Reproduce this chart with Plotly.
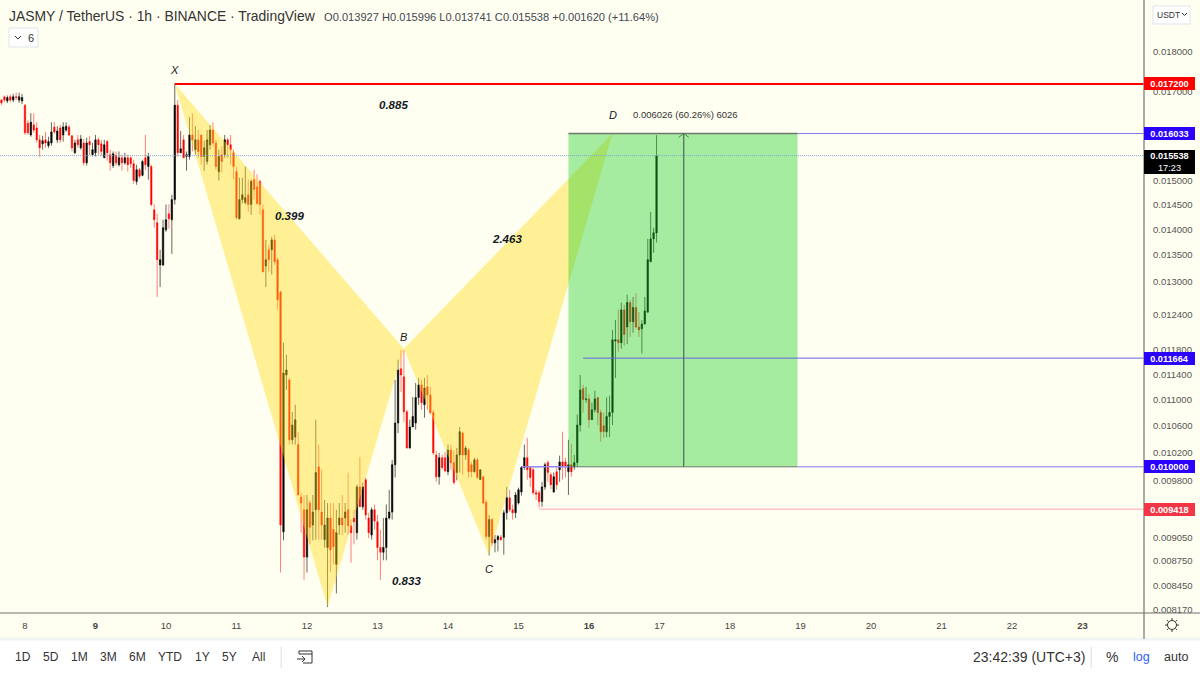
import math

import pandas as pd
import plotly.graph_objects as go

# prices are in units of 0.00001 USDT, hourly candles
open_e5 = [
    1681, 1689, 1679, 1689, 1681, 1689, 1681, 1679, 1669, 1627,
    1600, 1623, 1616, 1589, 1580, 1589, 1576, 1582, 1618, 1589,
    1616, 1600, 1611, 1618, 1598, 1560, 1589, 1571, 1582, 1538,
    1585, 1556, 1560, 1589, 1580, 1549, 1585, 1556, 1532, 1554,
    1534, 1549, 1538, 1549, 1549, 1536, 1498, 1523, 1511, 1549,
    1530, 1530, 1439, 1413, 1331, 1331, 1399, 1431, 1419, 1460,
    1669, 1560, 1589, 1552, 1552, 1600, 1567, 1589, 1600, 1552,
    1541, 1578, 1611, 1582, 1519, 1556, 1556, 1589, 1578, 1560,
    1519, 1421, 1460, 1454, 1470, 1450, 1502, 1487, 1498, 1439,
    1329, 1360, 1360, 1379, 1341, 1281, 912, 1139, 1131, 1039,
    1043, 1032, 958, 941, 880, 950, 921, 941, 1000, 938,
    902, 892, 930, 915, 871, 921, 930, 930, 941, 920,
    930, 911, 972, 945, 982, 930, 908, 941, 925, 892,
    886, 892, 930, 938, 1003, 1064, 1149, 1136, 1081, 1027,
    1058, 1064, 1103, 1123, 1092, 1120, 1107, 1080, 1017, 986,
    1013, 1013, 993, 1024, 1006, 992, 1017, 1049, 1017, 1024,
    1003, 993, 1010, 982, 986, 951, 906, 928, 898, 902,
    905, 905, 937, 957, 941, 937, 950, 965, 999, 1013,
    999, 996, 964, 964, 952, 972, 1006, 989, 965, 993,
    996, 1007, 1007, 993, 1003, 1000, 1006, 1061, 1117, 1100,
    1101, 1069, 1084, 1103, 1080, 1060, 1051, 1074, 1080, 1195,
    1197, 1192, 1249, 1219, 1262, 1228, 1253, 1219, 1216, 1224,
    1245, 1337, 1381, 1392.7,
]
high_e5 = [
    1683, 1692, 1692, 1694, 1696, 1699, 1699, 1696, 1671, 1634,
    1650, 1650, 1629, 1600, 1598, 1607, 1596, 1629, 1629, 1620,
    1623, 1629, 1629, 1623, 1600, 1589, 1600, 1600, 1591, 1594,
    1598, 1582, 1600, 1594, 1589, 1589, 1589, 1567, 1563, 1563,
    1563, 1556, 1560, 1556, 1552, 1545, 1534, 1527, 1545, 1600,
    1560, 1534, 1450, 1431, 1360, 1419, 1450, 1450, 1470, 1720,
    1681, 1609, 1600, 1563, 1641, 1650, 1620, 1611, 1600, 1587,
    1611, 1623, 1629, 1589, 1567, 1574, 1600, 1594, 1600, 1567,
    1530, 1506, 1506, 1530, 1502, 1502, 1523, 1513, 1502, 1450,
    1379, 1370, 1385, 1389, 1345, 1283, 1192, 1172, 1134, 1081,
    1092, 1051, 964, 961, 961, 954, 961, 1069, 1032, 996,
    954, 950, 950, 950, 941, 950, 961, 950, 992, 928,
    941, 975, 1014, 978, 985, 937, 944, 948, 934, 915,
    930, 948, 968, 1010, 1131, 1164, 1180, 1180, 1084, 1069,
    1104, 1126, 1134, 1131, 1134, 1139, 1120, 1084, 1023, 1020,
    1017, 1021, 1032, 1032, 1024, 1027, 1058, 1051, 1030, 1027,
    1007, 1013, 1013, 996, 987, 954, 934, 930, 908, 908,
    908, 941, 972, 968, 948, 965, 971, 1001, 1032, 1042,
    1001, 999, 968, 967, 979, 1006, 1009, 992, 992, 999,
    1016, 1051, 1013, 1039, 1033, 1017, 1077, 1139, 1123, 1120,
    1109, 1095, 1114, 1104, 1084, 1080, 1103, 1106, 1214, 1231,
    1249, 1262, 1258, 1276, 1267, 1272, 1279, 1245, 1231, 1272,
    1381, 1435, 1403, 1599.6,
]
low_e5 = [
    1669, 1676, 1674, 1676, 1676, 1681, 1674, 1671, 1600, 1600,
    1596, 1605, 1583, 1551, 1567, 1571, 1571, 1576, 1603, 1582,
    1582, 1585, 1607, 1598, 1563, 1558, 1571, 1567, 1532, 1532,
    1556, 1552, 1552, 1556, 1554, 1549, 1543, 1521, 1527, 1532,
    1530, 1521, 1534, 1519, 1527, 1493, 1491, 1504, 1509, 1523,
    1502, 1446, 1403, 1272, 1290, 1329, 1395, 1401, 1352, 1450,
    1552, 1560, 1549, 1521, 1545, 1563, 1556, 1549, 1534, 1521,
    1534, 1567, 1574, 1523, 1500, 1517, 1549, 1549, 1534, 1502,
    1419, 1419, 1452, 1450, 1435, 1429, 1460, 1450, 1429, 1318,
    1290, 1318, 1313, 1331, 1249, 861, 901, 1115, 1032, 1032,
    1032, 961, 911, 852, 861, 896, 901, 902, 902, 902,
    892, 820, 862, 871, 836, 908, 908, 911, 908, 873,
    896, 902, 945, 941, 928, 904, 902, 915, 876, 852,
    876, 876, 928, 928, 985, 1049, 1112, 1066, 1026, 1026,
    1058, 1054, 1092, 1084, 1072, 1084, 1077, 1017, 979, 975,
    996, 992, 988, 996, 975, 981, 992, 989, 1010, 985,
    985, 992, 983, 982, 948, 902, 882, 894, 886, 887,
    900, 883, 928, 938, 928, 930, 948, 960, 996, 982,
    972, 961, 954, 944, 945, 968, 979, 969, 964, 968,
    979, 982, 985, 961, 986, 996, 1000, 1051, 1080, 1095,
    1057, 1069, 1080, 1061, 1036, 1042, 1043, 1043, 1061, 1134,
    1177, 1182, 1187, 1190, 1202, 1209, 1217, 1202, 1174, 1224,
    1243, 1337, 1354, 1374.1,
]
close_e5 = [
    1674, 1681, 1687, 1681, 1689, 1687, 1689, 1687, 1605, 1605,
    1629, 1611, 1589, 1571, 1587, 1582, 1585, 1607, 1607, 1609,
    1589, 1618, 1620, 1600, 1571, 1582, 1578, 1591, 1538, 1582,
    1578, 1567, 1589, 1578, 1563, 1578, 1560, 1538, 1558, 1538,
    1549, 1538, 1549, 1534, 1536, 1500, 1523, 1509, 1541, 1534,
    1552, 1450, 1419, 1341, 1341, 1403, 1419, 1421, 1460, 1669,
    1560, 1569, 1549, 1556, 1600, 1589, 1589, 1563, 1552, 1571,
    1589, 1611, 1582, 1530, 1552, 1541, 1589, 1578, 1567, 1530,
    1423, 1460, 1470, 1464, 1450, 1498, 1481, 1452, 1450, 1318,
    1341, 1341, 1379, 1337, 1267, 921, 1142, 1147, 1039, 1061,
    1069, 961, 950, 880, 941, 918, 938, 992, 941, 921,
    921, 930, 889, 893, 911, 930, 921, 938, 920, 911,
    925, 972, 945, 972, 934, 911, 941, 926, 892, 886,
    892, 930, 938, 1003, 1064, 1147, 1139, 1081, 1027, 1058,
    1074, 1103, 1123, 1095, 1118, 1107, 1080, 1020, 986, 1013,
    999, 994, 1024, 1006, 978, 1017, 1051, 1017, 1027, 993,
    993, 1010, 985, 996, 950, 906, 928, 898, 902, 906,
    902, 937, 957, 941, 937, 961, 968, 999, 1013, 996,
    985, 964, 962, 952, 972, 1003, 992, 975, 986, 975,
    1007, 1000, 1000, 1003, 993, 1006, 1061, 1115, 1100, 1101,
    1069, 1084, 1101, 1080, 1051, 1051, 1074, 1080, 1197, 1197,
    1192, 1249, 1206, 1262, 1228, 1253, 1219, 1214, 1224, 1247,
    1341, 1381, 1393, 1553.8,
]
first_candle = "2022-03-07 16:00"

# harmonic pattern points
pattern_names = ["X", "A", "B", "C", "D"]
pattern_times = ["2022-03-10 03:00", "2022-03-12 07:00", "2022-03-13 09:00", "2022-03-14 14:00", "2022-03-16 08:00"]
pattern_prices = [0.0172, 0.00820, 0.01182, 0.00882, 0.016033]

# long position tool
entry_price = 0.01
target_price = 0.016033
stop_price = 0.009418
middle_price = 0.011664
last_price = 0.015538
pos_start = "2022-03-15 17:00"
pos_end = "2022-03-18 23:00"
arrow_time = "2022-03-17 08:15"

y_ticks = [0.018, 0.017, 0.015, 0.0145, 0.014, 0.0135, 0.013, 0.0124, 0.0118, 0.0114,
           0.011, 0.0106, 0.0102, 0.0098, 0.00905, 0.00875, 0.00845, 0.00817]
day_ticks = pd.date_range("2022-03-08", "2022-03-23", freq="D")
day_labels = ["8", "<b>9</b>", "10", "11", "12", "13", "14", "15", "<b>16</b>", "17", "18", "19", "20", "21", "22", "<b>23</b>"]

W, H = 1200, 675
PLOT_W, PLOT_H = 1144, 613
IVORY = "#fffff1"
FONT = "Liberation Sans"


def px(x):
    return x / PLOT_W


def py(y):
    return 1 - y / PLOT_H


def e5(values):
    return [v * 1e-5 for v in values]


times = pd.date_range(first_candle, periods=len(close_e5), freq="h")

fig = go.Figure()
fig.add_trace(go.Candlestick(
    x=times, open=e5(open_e5), high=e5(high_e5), low=e5(low_e5), close=e5(close_e5),
    increasing=dict(line=dict(color="rgba(0,0,0,0.6)", width=1), fillcolor="#000000"),
    decreasing=dict(line=dict(color="rgba(255,0,0,0.5)", width=1), fillcolor="#ff0000"),
    showlegend=False,
))

# yellow XAB and BCD triangles
for idx in ([0, 1, 2, 0], [2, 3, 4, 2]):
    fig.add_trace(go.Scatter(
        x=[pattern_times[i] for i in idx], y=[pattern_prices[i] for i in idx],
        mode="lines", line=dict(width=0), fill="toself", fillcolor="rgba(255,220,25,0.42)",
        showlegend=False, hoverinfo="skip",
    ))

# arrow head on the vertical line of the position tool
arrow_t = pd.Timestamp(arrow_time)
fig.add_trace(go.Scatter(
    x=[arrow_t - pd.Timedelta(minutes=105), arrow_t, arrow_t + pd.Timedelta(minutes=105)],
    y=[target_price * 0.9945, target_price, target_price * 0.9945],
    mode="lines", line=dict(color="#5c6b5c", width=1), showlegend=False, hoverinfo="skip",
))

shapes = []


def hline(t0, t1, price, color, width=1, dash="solid"):
    shapes.append(dict(type="line", xref="x", yref="y", x0=t0, x1=t1, y0=price, y1=price,
                       line=dict(color=color, width=width, dash=dash), layer="above"))


def chrome_path(points, color, width=1, close=False):
    d = "M" + " L".join(f"{px(a):.5f},{py(b):.5f}" for a, b in points) + (" Z" if close else "")
    shapes.append(dict(type="path", xref="paper", yref="paper", path=d,
                       line=dict(color=color, width=width), layer="above"))


def chrome_rect(x0, y0, x1, y1, fill="rgba(0,0,0,0)", line="rgba(0,0,0,0)", layer="above"):
    shapes.append(dict(type="rect", xref="paper", yref="paper", x0=px(x0), x1=px(x1), y0=py(y0), y1=py(y1),
                       fillcolor=fill, line=dict(color=line, width=1), layer=layer))


# green profit zone
shapes.append(dict(type="rect", xref="x", yref="y", x0=pos_start, x1=pos_end, y0=entry_price, y1=target_price,
                   fillcolor="rgba(30,205,40,0.4)", line=dict(width=0), layer="above"))

axis_end = "2022-03-23 20:56"
hline(pattern_times[0], axis_end, 0.0172, "#ff0000", 2)
hline(pos_end, axis_end, target_price, "#7f79f0")
hline(pos_start, pos_end, target_price, "#6c786c", 1.5)
hline("2022-03-15 22:00", axis_end, middle_price, "#6a64e8")
hline("2022-03-15 01:00", pos_start, entry_price, "#8d88f2", 1.5)
hline(pos_end, axis_end, entry_price, "#7f79f0")
hline(pos_start, pos_end, entry_price, "#6c786c", 1)
hline("2022-03-15 07:00", axis_end, stop_price, "#ffa6ac")
hline("2022-03-07 13:30", axis_end, last_price, "#7ba7d0", 1, "1px,1px")
shapes.append(dict(type="line", xref="x", yref="y", x0=arrow_time, x1=arrow_time, y0=entry_price, y1=target_price,
                   line=dict(color="#54665a", width=1.2), layer="above"))

# window chrome
chrome_rect(0, 638, W, H, fill="#ffffff", line="#ffffff")
chrome_rect(0, 638, W, 640, fill="#f2f3f5", line="#f2f3f5")
chrome_path([(1144, 0), (1144, 639)], "#8f8f8f", 1.5)
chrome_path([(0, 613), (1200, 613)], "#6f6f6f", 1)
chrome_rect(9, 28, 38, 47, fill="#ffffff", line="#e0e3eb")
chrome_path([(15, 36), (18, 39), (21, 36)], "#333333", 1)
chrome_rect(1153, 6, 1190, 24, fill="#ffffff", line="#e0e3eb")
chrome_path([(1182, 13), (1184.5, 15.5), (1187, 13)], "#333333", 1)
chrome_rect(281, 647, 281.5, 668, fill="#e6e8ee", line="#e6e8ee")
chrome_rect(1091, 647, 1091.5, 668, fill="#e6e8ee", line="#e6e8ee")

# calendar icon
chrome_path([(299, 654), (299, 651), (312, 651), (312, 663), (303, 663)], "#333333", 1)
chrome_path([(299, 654), (312, 654)], "#333333", 1)
chrome_path([(297, 659), (305, 659)], "#333333", 1)
chrome_path([(302, 656), (305, 659), (302, 662)], "#333333", 1)

# settings icon
shapes.append(dict(type="circle", xref="paper", yref="paper", x0=px(1167.5), x1=px(1176.5), y0=py(620.5), y1=py(629.5),
                   line=dict(color="#333333", width=1), layer="above"))
for k in range(8):
    a = k * math.pi / 4
    chrome_path([(1172 + 5 * math.cos(a), 625 + 5 * math.sin(a)), (1172 + 7 * math.cos(a), 625 + 7 * math.sin(a))], "#333333", 1)

annotations = []


def chrome_text(x, y, text, size=12, color="#333333", anchor="left", family=FONT):
    annotations.append(dict(xref="paper", yref="paper", x=px(x), y=py(y), text=text, showarrow=False,
                            xanchor=anchor, yanchor="middle", borderpad=0, borderwidth=0,
                            font=dict(family=family, size=size, color=color)))


def chart_text(time, price, text, size=11, color="#131722", anchor="center"):
    annotations.append(dict(xref="x", yref="y", x=time, y=math.log10(price), text=text, showarrow=False,
                            xanchor=anchor, yanchor="middle", borderpad=0, borderwidth=0,
                            font=dict(family=FONT, size=size, color=color)))


def price_tag(price, color, text=None, height=13, shift=0):
    annotations.append(dict(xref="paper", yref="y", x=1.0, y=math.log10(price), xanchor="left", yanchor="middle",
                            text=text or f"<b>{price:.6f}</b>", showarrow=False, width=51, height=height, align="center",
                            bgcolor=color, borderpad=0, borderwidth=0, yshift=shift,
                            font=dict(family=FONT, size=9.2, color="#ffffff")))


chart_text(pattern_times[0], 0.01755, "<i>X</i>", 11)
chart_text(pattern_times[2], 0.01202, "<i>B</i>", 11)
chart_text(pattern_times[3], 0.00865, "<i>C</i>", 11)
chart_text("2022-03-16 08:20", 0.01647, "<i>D</i>", 11)
chart_text("2022-03-13 05:30", 0.01669, "<b><i>0.885</i></b>", 11.5)
chart_text("2022-03-11 18:00", 0.01427, "<b><i>0.399</i></b>", 11.5)
chart_text("2022-03-14 20:00", 0.01381, "<b><i>2.463</i></b>", 11.5)
chart_text("2022-03-13 10:00", 0.00851, "<b><i>0.833</i></b>", 11.5)
chart_text("2022-03-16 15:00", 0.01647, "0.006026 (60.26%) 6026", 9.5, "#333333", "left")

price_tag(0.0172, "#ff0000")
price_tag(target_price, "#2a00ff")
price_tag(last_price, "#000000", "<b>0.015538</b><br>17:23", 24, -6)
price_tag(middle_price, "#2a00ff")
price_tag(entry_price, "#2a00ff")
price_tag(stop_price, "#f23645")

chrome_text(9, 16, "JASMY / TetherUS · 1h · BINANCE · TradingView", 13.9)
chrome_text(324, 17, "O0.013927 H0.015996 L0.013741 C0.015538 +0.001620 (+11.64%)", 11.1, "#434651")
chrome_text(28, 38, "6", 11)
chrome_text(1157, 15, "USDT", 8.5)

for label, center in zip(["1D", "5D", "1M", "3M", "6M", "YTD", "1Y", "5Y", "All"],
                         [22.5, 50.5, 79.5, 108.5, 137.5, 170, 202, 229.5, 258]):
    chrome_text(center, 657, label, 12, "#333333", "center")
chrome_text(973, 657, "23:42:39 (UTC+3)", 14)
chrome_text(1112, 657, "%", 14, "#333333", "center")
chrome_text(1141, 657, "log", 12.5, "#2962ff", "center")
chrome_text(1176, 657, "auto", 12.5, "#333333", "center")

fig.update_layout(
    width=W, height=H, margin=dict(l=0, r=W - PLOT_W, t=0, b=H - PLOT_H),
    paper_bgcolor=IVORY, plot_bgcolor=IVORY, showlegend=False,
    shapes=shapes, annotations=annotations,
    font=dict(family=FONT, size=9.5, color="#444444"),
    xaxis=dict(
        type="date", rangeslider=dict(visible=False), range=["2022-03-07 15:30", axis_end],
        showgrid=False, zeroline=False, showline=False, ticks="",
        tickmode="array", tickvals=day_ticks, ticktext=day_labels, ticklabelstandoff=5,
        tickfont=dict(size=9.5, color="#444444"),
    ),
    yaxis=dict(
        type="log", side="right", range=[math.log10(0.00813), math.log10(0.01937)],
        showgrid=False, zeroline=False, showline=False, ticks="",
        tickmode="array", tickvals=y_ticks, ticktext=[f"{v:.6f}" for v in y_ticks], ticklabelstandoff=8,
        tickfont=dict(size=9.5, color="#555555"),
    ),
)

fig.write_html("out.html", config=dict(displayModeBar=False), post_script="document.body.style.margin='0';")
